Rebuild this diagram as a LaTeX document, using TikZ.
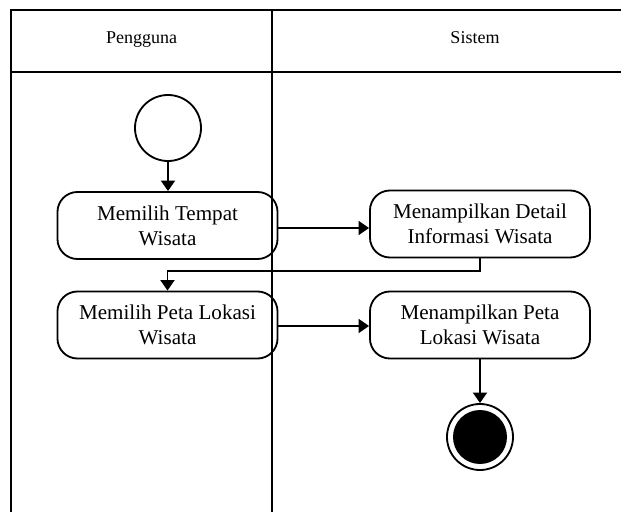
\documentclass[tikz,border=0pt]{standalone}
\usepackage{fontspec}
\setmainfont{Liberation Serif}
\usetikzlibrary{arrows.meta,positioning}

\begin{document}
\begin{tikzpicture}[x=0.025cm,y=-0.025cm,line width=1.3pt,
		aksi/.style={draw,rounded corners=0.5cm,minimum width=5.5cm,minimum height=1.675cm,
			align=center,font=\fontsize{15}{17.8}\selectfont,inner sep=0pt},
		judul/.style={font=\fontsize{12.8}{15}\selectfont,anchor=base},
		alur/.style={-{Triangle[length=7.5pt,width=10pt]}}]
		\useasboundingbox (0,0) rectangle (621,512);
		\clip (0,0) rectangle (621,512);
		% swimlane
		\draw (11,10) rectangle (679,540);
		\draw (11,72) -- (679,72);
		\draw (272,10) -- (272,540);
		\node[judul] (lanePengguna) at (141.5,44) {Pengguna};
		\node[judul] (laneSistem) at (475,44) {Sistem};
		
		% aktivitas
		\node[draw,circle,minimum size=1.65cm,inner sep=0pt] (mulai) at (168,128) {};
		\node[aksi] (pilihTempat) at (167.5,225.5) {Memilih Tempat\\Wisata};
		\node[aksi] (detailInfo) at (480,224) {Menampilkan Detail\\Informasi Wisata};
		\node[aksi] (pilihPeta) at (167.5,325) {Memilih Peta Lokasi\\Wisata};
		\node[aksi] (petaLokasi) at (480,325) {Menampilkan Peta\\Lokasi Wisata};
		\node[draw,circle,minimum size=1.65cm,inner sep=0pt] (selesai) at (480,437) {};
		\fill (selesai) circle (27);
		
		\coordinate (belok) at (0,271);
		\draw[alur] (mulai) -- (mulai |- pilihTempat.north);
		\draw[alur] (pilihTempat.east |- 0,228) -- (detailInfo.west |- 0,228);
		\draw[alur] (detailInfo.south) -- (detailInfo.south |- belok) -| (pilihPeta.north);
		\draw[alur] (pilihPeta.east |- 0,326) -- (petaLokasi.west |- 0,326);
		\draw[alur] (petaLokasi) -- (selesai);
	\end{tikzpicture}
\end{document}
